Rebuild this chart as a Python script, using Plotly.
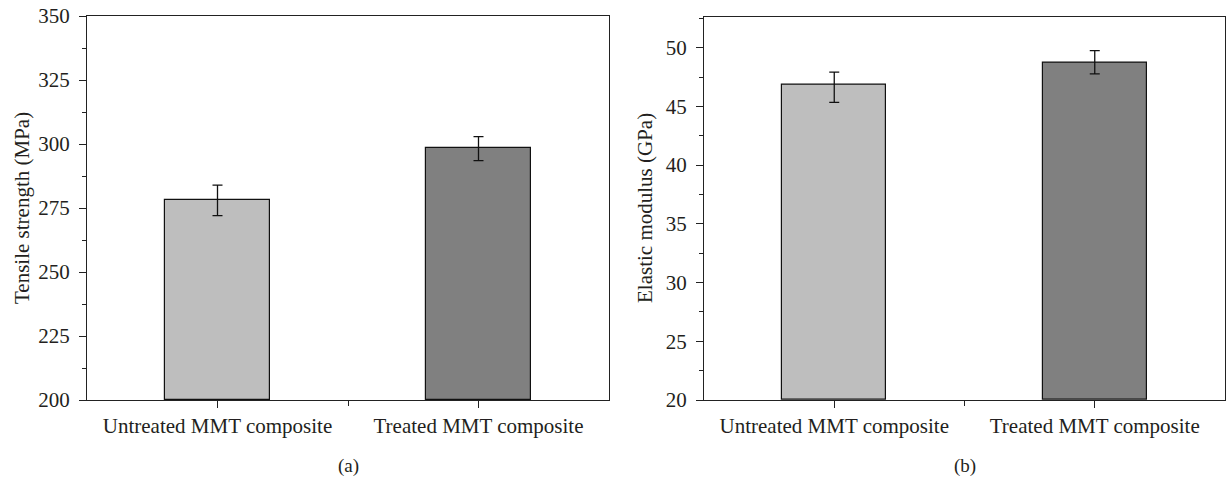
import plotly.graph_objects as go

categories = ["Untreated MMT composite", "Treated MMT composite"]
bar_colors = ["#bebebe", "#808080"]

tensile_strength = [278.0, 298.3]
tensile_err_plus = [5.9, 4.6]
tensile_err_minus = [6.0, 4.8]

elastic_modulus = [46.85, 48.75]
modulus_err_plus = [1.07, 1.0]
modulus_err_minus = [1.5, 0.98]

y_titles = ["Tensile strength (MPa)", "Elastic modulus (GPa)"]
panel_labels = ["(a)", "(b)"]

W, H = 1226, 479
FONT = "Liberation Serif"
TXT = "#231f20"
FS = 21

xpos = list(range(len(categories)))

fig = go.Figure()

fig.add_trace(go.Bar(
    x=xpos, y=[v - 200 for v in tensile_strength], base=200, width=0.4,
    marker=dict(color=bar_colors, line=dict(color="#111", width=1.2)),
    error_y=dict(type="data", array=tensile_err_plus, arrayminus=tensile_err_minus,
                 color="#111", thickness=1.3, width=5),
    xaxis="x", yaxis="y", showlegend=False,
))

fig.add_trace(go.Bar(
    x=xpos, y=[v - 20 for v in elastic_modulus], base=20, width=0.4,
    marker=dict(color=bar_colors, line=dict(color="#111", width=1.2)),
    error_y=dict(type="data", array=modulus_err_plus, arrayminus=modulus_err_minus,
                 color="#111", thickness=1.3, width=5),
    xaxis="x2", yaxis="y2", showlegend=False,
))

def px_x(a, b):
    return [a / W, b / W]

def px_y(top, bottom):
    return [(H - bottom) / H, (H - top) / H]

axis_common = dict(
    showline=True, linecolor="#222", linewidth=1.3, mirror=True,
    ticks="outside", ticklen=7, tickwidth=1.3, tickcolor="#222",
    showgrid=False, zeroline=False, automargin=False,
    tickfont=dict(family=FONT, size=FS, color=TXT),
)

xcommon = dict(axis_common, range=[-0.5, 1.5], tickmode="array", tickvals=xpos,
               ticktext=categories,
               minor=dict(tickmode="array", tickvals=[0.5], ticks="outside", ticklen=5,
                          tickwidth=1.3, tickcolor="#222", showgrid=False))

fig.update_layout(
    width=W, height=H,
    margin=dict(l=0, r=0, t=0, b=0),
    paper_bgcolor="white", plot_bgcolor="white",
    bargap=0,
    xaxis=dict(xcommon, domain=px_x(87, 609), anchor="y"),
    yaxis=dict(axis_common, domain=px_y(16, 400), anchor="x", range=[200, 350],
               tickmode="linear", tick0=200, dtick=25, ticklabelstandoff=5,
               minor=dict(dtick=12.5, ticks="outside", ticklen=4, tickwidth=1.3,
                          tickcolor="#222", showgrid=False)),
    xaxis2=dict(xcommon, domain=px_x(704, 1225), anchor="y2"),
    yaxis2=dict(axis_common, domain=px_y(16.7, 400), anchor="x2", range=[20, 52.64],
                tickmode="linear", tick0=20, dtick=5, ticklabelstandoff=5,
                minor=dict(dtick=2.5, ticks="outside", ticklen=4, tickwidth=1.3,
                           tickcolor="#222", showgrid=False)),
)

for title, xc in zip(y_titles, [22, 645]):
    fig.add_annotation(text=title, xref="paper", yref="paper",
                       x=xc / W, y=(H - 208) / H, showarrow=False, textangle=-90,
                       xanchor="center", yanchor="middle",
                       font=dict(family=FONT, size=FS, color=TXT))

for lab, (a, b) in zip(panel_labels, [(87, 609), (704, 1225)]):
    fig.add_annotation(text=lab, xref="paper", yref="paper",
                       x=(a + b) / 2 / W, y=(H - 466) / H, showarrow=False,
                       xanchor="center", yanchor="middle",
                       font=dict(family=FONT, size=19, color=TXT))

fig.write_html("out.html", config={"displayModeBar": False},
               post_script="document.body.style.margin='0';document.body.style.overflow='hidden';window.dispatchEvent(new Event('resize'));")
